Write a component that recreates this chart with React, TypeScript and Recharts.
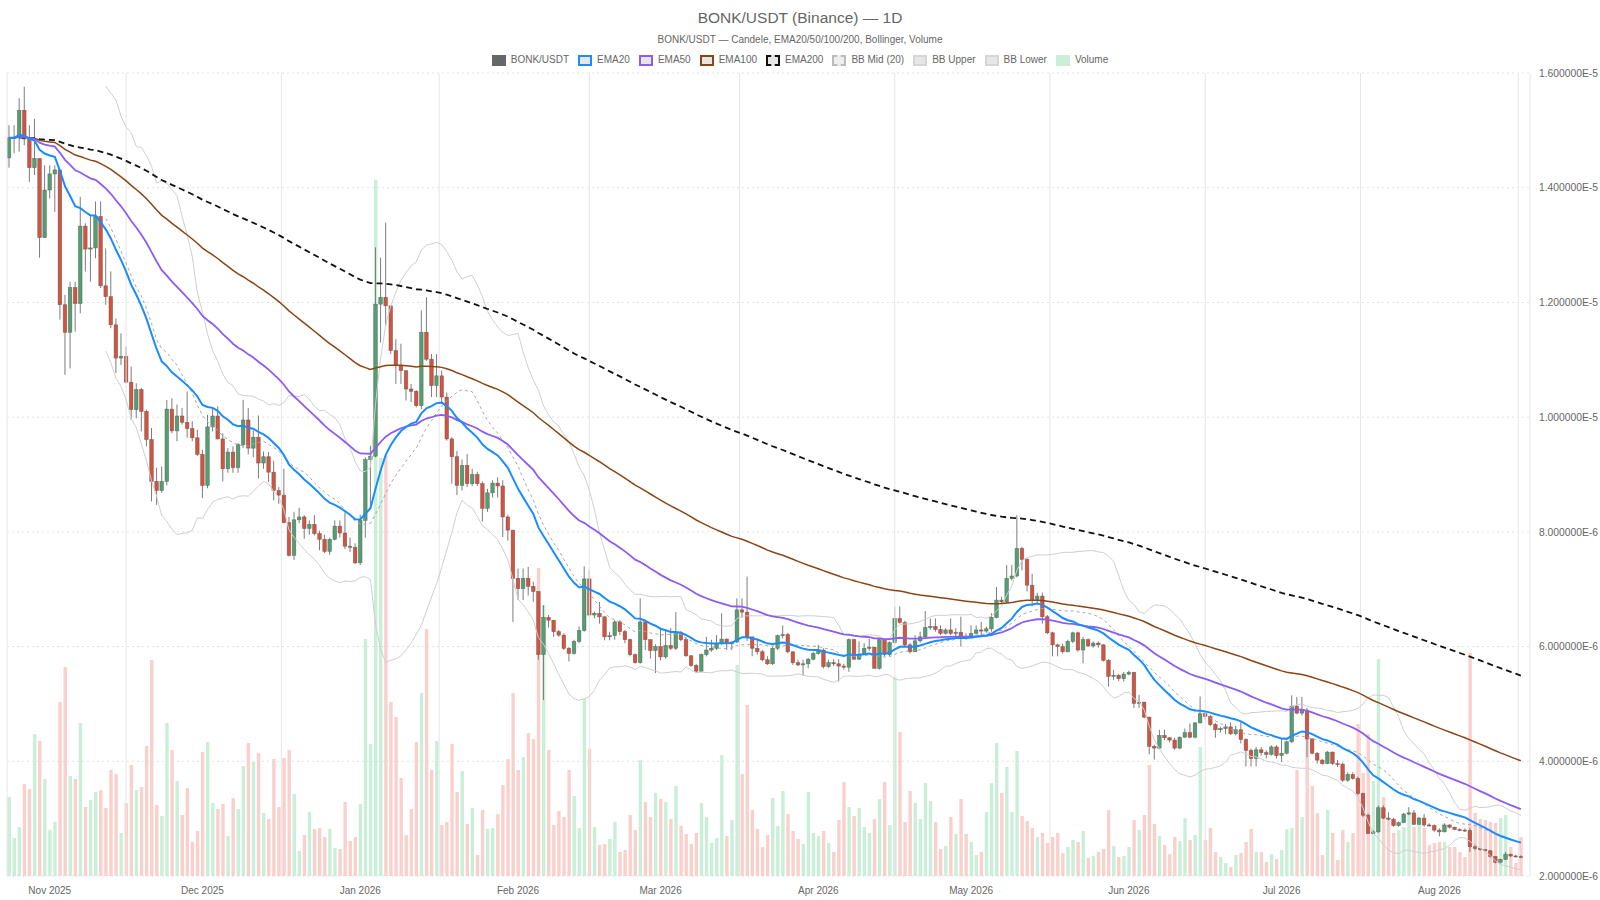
import React from "react";
import {
  ComposedChart,
  Bar,
  Line,
  XAxis,
  YAxis,
  CartesianGrid,
  ReferenceLine,
  Cell,
} from "recharts";

// daily candles from 24 Oct 2025, prices in 1e-6 USDT
const firstOpen = 14.52;

const closes = [
  14.87, 14.88, 15.35, 14.85, 14.35, 14.51, 13.13, 13.96, 14.24, 14.31,
  11.96, 11.48, 12.26, 11.98, 13.33, 12.93, 12.95, 13.5, 12.29, 12.1,
  11.61, 11.03, 11.06, 10.61, 10.13, 10.48, 10.1, 9.61, 8.88, 8.72,
  8.88, 10.14, 9.76, 10.02, 9.91, 9.8, 9.64, 9.35, 8.81, 9.83,
  10.02, 9.62, 9.1, 9.39, 9.12, 9.52, 9.95, 9.46, 9.65, 9.2,
  9.31, 9.04, 8.72, 8.64, 8.16, 7.59, 8.21, 8.26, 8.06, 8.13,
  7.97, 7.87, 7.66, 7.87, 8.1, 7.98, 7.75, 7.73, 7.46, 8.2,
  9.26, 9.32, 11.97, 12.09, 11.94, 11.16, 10.9, 10.81, 10.49, 10.45,
  10.2, 11.48, 11.01, 10.55, 10.72, 10.35, 9.62, 9.31, 8.81, 9.16,
  8.84, 9.0, 8.84, 8.41, 8.68, 8.85, 8.8, 8.26, 8.03, 7.19,
  7.01, 7.19, 7.05, 6.96, 5.86, 6.51, 6.46, 6.26, 6.2, 5.97,
  5.88, 6.09, 6.28, 7.18, 6.55, 6.58, 6.52, 6.17, 6.19, 6.43,
  6.26, 6.12, 5.86, 5.72, 6.43, 6.12, 5.93, 6.0, 5.82, 6.02,
  5.97, 6.24, 6.12, 5.84, 5.67, 5.57, 5.86, 5.94, 5.97, 6.06,
  6.13, 6.05, 6.08, 6.64, 6.6, 6.17, 5.97, 5.91, 5.77, 5.7,
  5.97, 6.19, 6.21, 5.91, 5.72, 5.68, 5.7, 5.78, 5.88, 5.94,
  5.65, 5.72, 5.7, 5.66, 5.64, 6.12, 5.78, 5.87, 5.97, 5.99,
  5.62, 6.12, 5.86, 6.07, 6.49, 6.42, 6.03, 5.91, 6.1, 6.17,
  6.33, 6.35, 6.3, 6.23, 6.29, 6.23, 6.25, 6.17, 6.15, 6.23,
  6.29, 6.27, 6.31, 6.51, 6.81, 6.78, 7.19, 7.23, 7.71, 7.52,
  7.07, 6.82, 6.88, 6.52, 6.24, 6.03, 6.0, 5.91, 6.09, 6.24,
  5.94, 6.12, 6.01, 6.06, 6.03, 5.76, 5.48, 5.5, 5.44, 5.52,
  5.55, 5.01, 5.03, 4.77, 4.26, 4.23, 4.45, 4.41, 4.37, 4.23,
  4.42, 4.5, 4.42, 4.67, 4.83, 4.78, 4.64, 4.55, 4.57, 4.6,
  4.48, 4.55, 4.38, 4.19, 4.05, 4.2, 4.15, 4.12, 4.25, 4.1,
  4.14, 4.34, 4.96, 4.84, 4.89, 4.39, 4.14, 4.02, 3.96, 4.16,
  3.96, 3.95, 3.67, 3.77, 3.7, 3.44, 3.06, 2.74, 2.77, 3.19,
  3.01, 2.99, 2.88, 2.93, 3.08, 3.1, 2.9, 3.01, 2.89, 2.88,
  2.8, 2.77, 2.89, 2.85, 2.81, 2.8, 2.795, 2.51, 2.48, 2.46,
  2.44, 2.34, 2.24, 2.29, 2.38, 2.35, 2.34, 2.33,
];

const highs = [
  15.09, 15.09, 15.56, 15.76, 15.09, 15.2, 14.51, 14.39, 14.39, 14.39,
  14.31, 12.13, 12.36, 12.36, 13.84, 13.38, 13.5, 13.76, 13.76, 12.94,
  12.54, 11.72, 11.46, 11.23, 10.88, 10.59, 10.51, 10.13, 9.81, 9.12,
  9.14, 10.3, 10.33, 10.22, 10.16, 10.45, 9.93, 9.78, 9.43, 10.04,
  10.16, 10.19, 9.72, 9.46, 9.49, 9.55, 10.3, 10.16, 9.77, 10.03,
  9.4, 9.39, 9.24, 8.78, 9.1, 8.26, 8.35, 8.42, 8.29, 8.2,
  8.29, 8.02, 7.95, 7.9, 8.2, 8.2, 8.34, 7.9, 7.8, 8.3,
  9.3, 9.5, 12.96, 12.78, 13.39, 11.94, 11.36, 11.28, 10.81, 10.58,
  10.47, 11.86, 12.09, 11.1, 11.1, 10.81, 10.43, 9.65, 9.41, 9.26,
  9.36, 9.1, 9.05, 8.88, 8.75, 8.9, 8.95, 8.9, 8.3, 8.03,
  7.36, 7.36, 7.39, 7.13, 6.96, 6.72, 6.55, 6.46, 6.29, 6.23,
  5.99, 6.12, 6.35, 7.4, 7.34, 6.61, 6.78, 6.52, 6.26, 6.46,
  6.46, 6.29, 6.14, 5.88, 6.84, 6.46, 6.12, 6.04, 6.32, 6.29,
  6.32, 6.6, 6.27, 6.17, 5.85, 5.7, 5.88, 6.17, 6.12, 6.2,
  6.58, 6.14, 6.09, 6.84, 6.84, 7.22, 6.17, 6.12, 5.94, 5.83,
  6.0, 6.21, 6.37, 6.24, 5.91, 5.77, 5.77, 5.8, 5.91, 6.03,
  5.97, 5.77, 5.78, 5.78, 5.7, 6.14, 6.14, 6.09, 6.06, 6.14,
  5.99, 6.14, 6.13, 6.09, 6.7, 6.7, 6.45, 6.06, 6.2, 6.26,
  6.62, 6.49, 6.49, 6.37, 6.32, 6.49, 6.32, 6.52, 6.23, 6.37,
  6.37, 6.43, 6.35, 6.58, 7.04, 6.87, 7.42, 7.42, 8.29, 7.74,
  7.54, 7.27, 6.94, 6.94, 6.55, 6.26, 6.05, 6.05, 6.12, 6.26,
  6.26, 6.17, 6.14, 6.09, 6.09, 6.04, 5.78, 5.59, 5.52, 5.56,
  5.58, 5.56, 5.16, 5.04, 4.78, 4.29, 4.55, 4.55, 4.42, 4.41,
  4.43, 4.57, 4.66, 4.68, 5.13, 4.87, 4.81, 4.67, 4.6, 4.65,
  4.68, 4.62, 4.68, 4.4, 4.22, 4.25, 4.25, 4.19, 4.28, 4.28,
  4.39, 4.36, 5.15, 5.12, 5.12, 4.93, 4.4, 4.16, 4.04, 4.18,
  4.17, 4.02, 3.98, 3.81, 3.81, 3.73, 3.45, 3.09, 2.8, 3.23,
  3.23, 3.11, 3.01, 2.95, 3.1, 3.2, 3.15, 3.03, 3.08, 2.92,
  2.9, 2.83, 2.92, 2.9, 2.86, 2.83, 2.83, 2.84, 2.56, 2.49,
  2.47, 2.45, 2.35, 2.3, 2.42, 2.39, 2.37, 2.36,
];

const lows = [
  14.35, 14.6, 14.63, 14.74, 14.1, 14.22, 12.78, 13.13, 13.81, 13.58,
  11.7, 10.74, 10.85, 11.49, 11.81, 12.54, 12.36, 12.77, 12.25, 11.96,
  11.55, 10.77, 10.91, 10.59, 9.95, 9.98, 9.75, 9.49, 8.53, 8.47,
  8.68, 8.81, 9.72, 9.58, 9.87, 9.64, 9.58, 9.32, 8.59, 8.76,
  9.75, 9.61, 8.88, 9.03, 9.03, 9.03, 9.46, 9.35, 9.3, 8.93,
  9.1, 8.87, 8.55, 8.49, 8.15, 7.57, 7.51, 8.15, 7.88, 7.95,
  7.94, 7.68, 7.63, 7.6, 7.85, 7.9, 7.7, 7.65, 7.44, 7.42,
  7.9, 8.4, 9.3, 11.3, 11.6, 11.1, 10.58, 10.58, 10.29, 10.26,
  10.17, 10.14, 10.98, 10.35, 10.35, 10.23, 9.59, 8.84, 8.64, 8.72,
  8.78, 8.8, 8.8, 8.18, 8.35, 8.6, 8.6, 7.91, 7.85, 6.43,
  6.81, 6.81, 6.89, 6.78, 5.77, 5.07, 6.33, 6.17, 6.17, 5.94,
  5.74, 5.86, 6.06, 6.26, 6.52, 6.49, 6.4, 6.11, 6.11, 6.12,
  6.2, 6.06, 5.83, 5.7, 5.7, 5.94, 5.79, 5.54, 5.76, 5.79,
  5.94, 5.94, 6.09, 5.82, 5.65, 5.54, 5.56, 5.83, 5.91, 5.94,
  6.03, 5.94, 5.94, 6.06, 6.5, 6.1, 5.83, 5.86, 5.74, 5.68,
  5.68, 5.94, 6.14, 5.88, 5.68, 5.66, 5.49, 5.62, 5.76, 5.86,
  5.62, 5.63, 5.66, 5.39, 5.6, 5.56, 5.77, 5.77, 5.85, 5.93,
  5.62, 5.6, 5.83, 5.83, 6.05, 6.4, 6.0, 5.88, 5.91, 6.07,
  6.14, 6.29, 6.26, 6.2, 6.21, 6.2, 6.17, 6.0, 6.12, 6.15,
  6.22, 6.2, 6.24, 6.26, 6.49, 6.75, 6.76, 7.15, 7.21, 7.33,
  6.96, 6.7, 6.75, 6.4, 6.22, 5.83, 5.83, 5.88, 5.9, 6.06,
  5.91, 5.71, 6.0, 5.98, 5.98, 5.74, 5.3, 5.42, 5.4, 5.39,
  5.5, 4.93, 4.93, 4.75, 4.12, 4.03, 4.21, 4.37, 4.33, 4.2,
  4.21, 4.41, 4.4, 4.4, 4.66, 4.73, 4.61, 4.41, 4.5, 4.47,
  4.46, 4.45, 4.31, 3.91, 3.91, 3.91, 4.1, 4.05, 4.1, 4.05,
  3.99, 4.12, 4.32, 4.82, 4.8, 4.07, 4.12, 3.96, 3.94, 3.95,
  3.94, 3.9, 3.64, 3.64, 3.68, 3.41, 3.03, 2.73, 2.73, 2.75,
  2.99, 2.97, 2.86, 2.86, 2.92, 3.06, 2.89, 2.89, 2.86, 2.86,
  2.77, 2.69, 2.76, 2.83, 2.8, 2.78, 2.77, 2.42, 2.45, 2.44,
  2.42, 2.32, 2.22, 2.22, 2.28, 2.33, 2.32, 2.31,
];

// billions of BONK
const volumes = [
  79, 38, 49, 92, 87, 142, 135, 97, 46, 54,
  174, 209, 100, 97, 153, 69, 76, 84, 86, 68,
  106, 102, 43, 73, 111, 86, 89, 130, 216, 71,
  60, 153, 126, 95, 61, 88, 34, 45, 124, 134,
  73, 67, 72, 40, 78, 67, 110, 133, 114, 123,
  63, 57, 117, 69, 118, 126, 82, 25, 41, 64,
  47, 48, 39, 47, 28, 27, 74, 35, 39, 72,
  237, 132, 696, 418, 420, 174, 159, 98, 41, 67,
  134, 183, 247, 106, 135, 51, 54, 132, 84, 105,
  52, 68, 21, 66, 47, 48, 62, 91, 117, 183,
  106, 119, 143, 137, 308, 271, 126, 51, 65, 59,
  106, 80, 48, 177, 127, 49, 31, 32, 37, 54,
  24, 26, 61, 46, 116, 74, 59, 83, 77, 74,
  57, 90, 50, 42, 32, 43, 73, 59, 33, 38,
  121, 40, 56, 211, 102, 171, 66, 47, 29, 41,
  78, 50, 85, 62, 45, 37, 32, 84, 43, 40,
  45, 33, 24, 56, 94, 69, 60, 68, 49, 43,
  57, 77, 94, 51, 199, 144, 54, 85, 73, 57,
  93, 75, 54, 27, 30, 59, 42, 77, 42, 34,
  21, 24, 64, 93, 133, 83, 109, 64, 125, 60,
  55, 48, 39, 43, 33, 39, 43, 23, 29, 36,
  34, 45, 18, 20, 24, 27, 66, 30, 19, 20,
  29, 56, 46, 61, 111, 52, 40, 31, 22, 39,
  35, 58, 36, 41, 129, 36, 48, 24, 19, 13,
  9, 21, 23, 34, 47, 24, 24, 14, 22, 17,
  26, 47, 48, 106, 59, 166, 90, 63, 21, 66,
  43, 16, 46, 34, 43, 152, 103, 142, 95, 217,
  79, 56, 43, 46, 49, 64, 49, 51, 48, 31,
  33, 34, 34, 29, 29, 24, 19, 223, 63, 57,
  56, 54, 53, 58, 61, 29, 13, 39,
];

// day index of the first day of each month
const monthStarts = [8, 38, 69, 100, 128, 159, 189, 220, 250, 281, 312];
const monthLabels = [
  "Nov 2025", "Dec 2025", "Jan 2026", "Feb 2026", "Mar 2026",
  "Apr 2026", "May 2026", "Jun 2026", "Jul 2026", "Aug 2026",
];
const priceTicks = [2, 4, 6, 8, 10, 12, 14, 16];

const UP = "#52a06f";
const DOWN = "#d4523e";
const UP_VOL = "#c9efd8";
const DOWN_VOL = "#f9d0cc";
const X_DOMAIN: [number, number] = [-0.4, 298.8];

function ema(values: number[], period: number) {
  const k = 2 / (period + 1);
  let prev = values[0];
  return values.map((v, i) => {
    prev = i === 0 ? v : v * k + prev * (1 - k);
    return prev;
  });
}

function bollinger(values: number[], period: number, mult: number) {
  return values.map((_, i) => {
    if (i < period - 1) return null;
    const win = values.slice(i - period + 1, i + 1);
    const mean = win.reduce((a, b) => a + b, 0) / period;
    const sd = Math.sqrt(win.reduce((a, b) => a + (b - mean) ** 2, 0) / period);
    return { mid: mean, up: mean + mult * sd, low: mean - mult * sd };
  });
}

const ema20 = ema(closes, 20);
const ema50 = ema(closes, 50);
const ema100 = ema(closes, 100);
const ema200 = ema(closes, 200);
const bb = bollinger(closes, 20, 2);

const data = closes.map((c, i) => {
  const o = i === 0 ? firstOpen : closes[i - 1];
  const h = Math.max(highs[i], o, c);
  const l = Math.min(lows[i], o, c);
  return {
    i,
    o,
    h,
    l,
    c,
    range: [l, h],
    vol: volumes[i],
    ema20: ema20[i],
    ema50: ema50[i],
    ema100: ema100[i],
    ema200: ema200[i],
    bbMid: bb[i]?.mid ?? null,
    bbUp: bb[i]?.up ?? null,
    bbLow: bb[i]?.low ?? null,
  };
});

const gridDays = monthStarts.slice(0, -1).map((m, k) => (m + monthStarts[k + 1]) / 2);
const maxVol = Math.max(...volumes);

function Candle(props: any) {
  const { x, y, width, height, payload } = props;
  if (!payload) return null;
  const { o, h, l, c } = payload;
  const top = Math.min(y, y + height);
  const bot = Math.max(y, y + height);
  const ppu = (bot - top) / (h - l || 1e-9);
  const cx = x + width / 2;
  const yO = top + (h - o) * ppu;
  const yC = top + (h - c) * ppu;
  const up = c >= o;
  const bTop = Math.min(yO, yC);
  const bH = Math.max(Math.abs(yO - yC), 1);
  return (
    <g>
      <line x1={cx} x2={cx} y1={top} y2={bot} stroke="#7c7c7c" strokeWidth={1} />
      <rect
        x={cx - 1.8}
        y={bTop}
        width={3.6}
        height={bH}
        fill={up ? UP : DOWN}
        stroke="#555"
        strokeOpacity={0.7}
        strokeWidth={0.6}
      />
    </g>
  );
}

const legendItems = [
  { label: "BONK/USDT", fill: "#666", border: "#666" },
  { label: "EMA20", fill: "#e6e6e6", border: "#1a8cff" },
  { label: "EMA50", fill: "#e6e6e6", border: "#8b5cf6" },
  { label: "EMA100", fill: "#e6e6e6", border: "#8b4513" },
  { label: "EMA200", fill: "#e6e6e6", border: "#111", dashed: true },
  { label: "BB Mid (20)", fill: "#eeeeee", border: "#bbb", dashed: true },
  { label: "BB Upper", fill: "#e6e6e6", border: "#d6d6d6" },
  { label: "BB Lower", fill: "#e6e6e6", border: "#d6d6d6" },
  { label: "Volume", fill: UP_VOL, border: UP_VOL },
];

export default function App() {
  const font = '"Liberation Sans", Arial, Helvetica, sans-serif';
  return (
    <div
      style={{
        position: "absolute",
        left: 0,
        top: 0,
        width: 1600,
        height: 900,
        background: "#fff",
        fontFamily: font,
        color: "#666",
      }}
    >
      <div style={{ position: "absolute", top: 8, width: 1600, textAlign: "center", fontSize: 15.5, lineHeight: "19px" }}>
        BONK/USDT (Binance) — 1D
      </div>
      <div style={{ position: "absolute", top: 33, width: 1600, textAlign: "center", fontSize: 10, lineHeight: "14px" }}>
        BONK/USDT — Candele, EMA20/50/100/200, Bollinger, Volume
      </div>
      <div
        style={{
          position: "absolute",
          top: 53,
          width: 1600,
          display: "flex",
          justifyContent: "center",
          fontSize: 10,
          lineHeight: "14px",
          gap: 9,
        }}
      >
        {legendItems.map((it) => (
          <div key={it.label} style={{ display: "flex", alignItems: "center", gap: 5 }}>
            <span
              style={{
                display: "inline-block",
                width: 10,
                height: 7,
                background: it.fill,
                border: `2px ${it.dashed ? "dashed" : "solid"} ${it.border}`,
              }}
            />
            <span>{it.label}</span>
          </div>
        ))}
      </div>

      <ComposedChart
        width={1600}
        height={900}
        data={data}
        margin={{ top: 73, right: 0, bottom: 0, left: 7 }}
        style={{ position: "absolute", left: 0, top: 0 }}
      >
        <CartesianGrid xAxisId="p" yAxisId="p" vertical={false} stroke="#e2e2e2" strokeDasharray="2 3" />
        <XAxis
          xAxisId="p"
          dataKey="i"
          type="number"
          domain={X_DOMAIN}
          ticks={monthStarts.slice(0, -1)}
          tickFormatter={(v: number) => monthLabels[monthStarts.indexOf(v)] ?? ""}
          interval={0}
          axisLine={false}
          tickLine={false}
          tickSize={0}
          tickMargin={11}
          height={24}
          tick={{ fontSize: 10, fill: "#666" }}
          allowDataOverflow
        />
        <XAxis xAxisId="v" dataKey="i" type="number" domain={X_DOMAIN} hide allowDataOverflow />
        <YAxis
          yAxisId="p"
          orientation="right"
          domain={[2, 16]}
          ticks={priceTicks}
          interval={0}
          tickFormatter={(v: number) => (v * 1e-6).toExponential(6).toUpperCase()}
          width={70}
          axisLine={false}
          tickLine={false}
          tickSize={0}
          tickMargin={9}
          tick={{ fontSize: 10.3, fill: "#666" }}
          allowDataOverflow
        />
        <YAxis yAxisId="v" domain={[0, maxVol / 0.867]} hide />

        {gridDays.map((d) => (
          <ReferenceLine key={d} xAxisId="p" yAxisId="p" x={d} stroke="#e6e6e6" strokeWidth={1} />
        ))}
        <ReferenceLine xAxisId="p" yAxisId="p" x={X_DOMAIN[0]} stroke="#e6e6e6" />
        <ReferenceLine xAxisId="p" yAxisId="p" x={X_DOMAIN[1]} stroke="#e6e6e6" />

        <Bar xAxisId="v" yAxisId="v" dataKey="vol" barSize={3.4} isAnimationActive={false}>
          {data.map((d) => (
            <Cell key={d.i} fill={d.c >= d.o ? UP_VOL : DOWN_VOL} />
          ))}
        </Bar>

        <Bar
          xAxisId="p"
          yAxisId="p"
          dataKey="range"
          barSize={5}
          shape={<Candle />}
          isAnimationActive={false}
        />

        <Line xAxisId="p" yAxisId="p" dataKey="bbUp" stroke="#cfcfcf" strokeWidth={1} dot={false} isAnimationActive={false} />
        <Line xAxisId="p" yAxisId="p" dataKey="bbLow" stroke="#cfcfcf" strokeWidth={1} dot={false} isAnimationActive={false} />
        <Line xAxisId="p" yAxisId="p" dataKey="bbMid" stroke="#a8a8a8" strokeWidth={1} strokeDasharray="3 3" dot={false} isAnimationActive={false} />
        <Line xAxisId="p" yAxisId="p" dataKey="ema200" stroke="#111" strokeWidth={1.8} strokeDasharray="6 4" dot={false} isAnimationActive={false} />
        <Line xAxisId="p" yAxisId="p" dataKey="ema100" stroke="#8b4513" strokeWidth={1.5} dot={false} isAnimationActive={false} />
        <Line xAxisId="p" yAxisId="p" dataKey="ema50" stroke="#8b5cf6" strokeWidth={1.8} dot={false} isAnimationActive={false} />
        <Line xAxisId="p" yAxisId="p" dataKey="ema20" stroke="#1a8cff" strokeWidth={2} dot={false} isAnimationActive={false} />
      </ComposedChart>
    </div>
  );
}
